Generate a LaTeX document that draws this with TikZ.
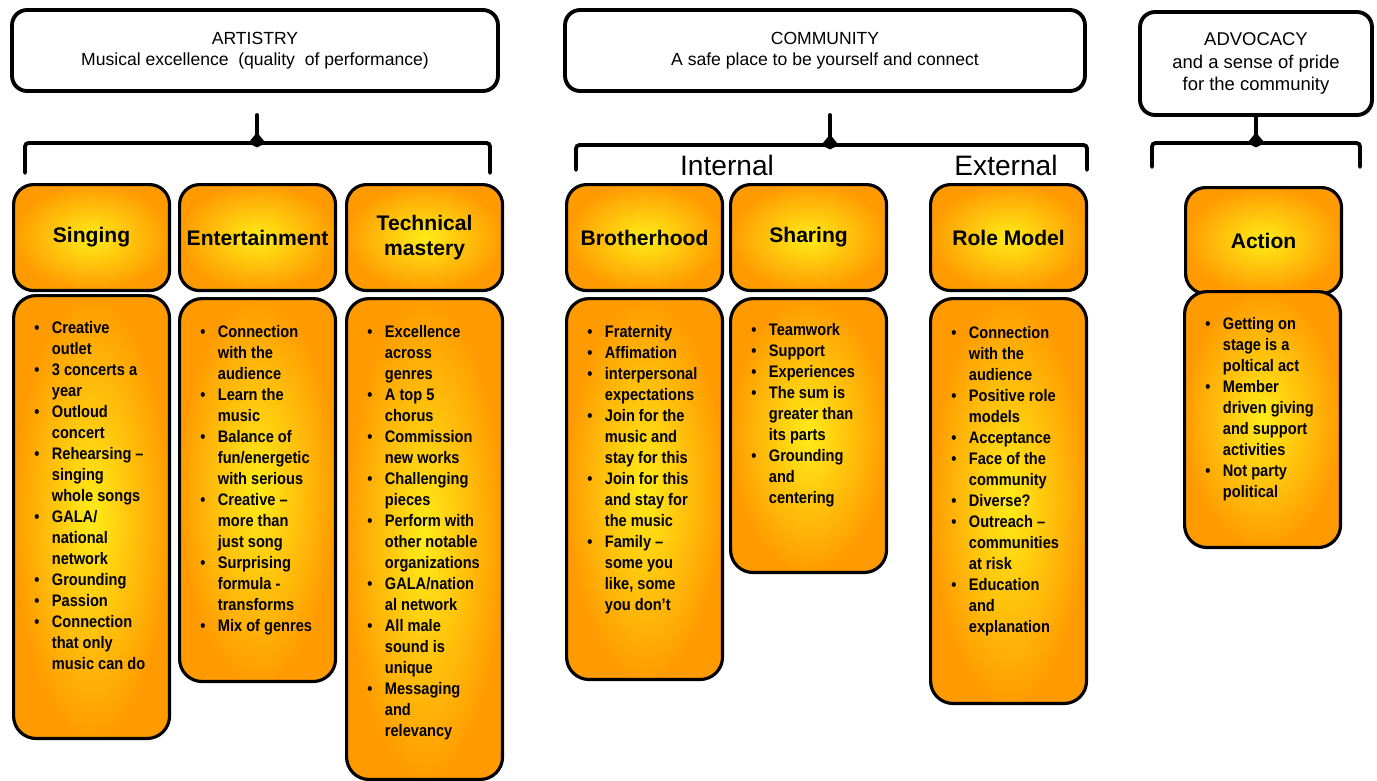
\documentclass[tikz,border=0pt]{standalone}
\usepackage{fontspec}
\setmainfont{Liberation Sans}
\newfontfamily\listfont[FakeStretch=0.875]{Liberation Sans}
\usepackage{array}
\definecolor{ornedge}{RGB}{255,155,0}
\definecolor{orncore}{RGB}{255,236,25}
\newcommand{\bul}{\makebox[10pt][l]{\textbullet}}
\newcommand{\ind}{\hspace*{10pt}}

\begin{document}
\begin{tikzpicture}[x=0.02cm,y=-0.02cm,
	topbox/.style={draw,line width=2.2pt,rounded corners=0.3cm,fill=white,inner sep=0pt,align=center,font=\fontsize{10}{12}\selectfont},
	headbox/.style={draw,line width=1.8pt,rounded corners=0.4cm,inner color=orncore,outer color=ornedge,minimum width=3.12cm,minimum height=2.12cm,anchor=north west,align=center,font=\fontsize{12}{14.4}\selectfont\bfseries},
	listbox/.style={draw,line width=1.8pt,rounded corners=0.45cm,inner color=orncore,outer color=ornedge,minimum width=3.12cm,anchor=north west},
	listtext/.style={anchor=base west,inner sep=0pt,font=\listfont\fontsize{9.5}{11.95}\selectfont\bfseries},
	brace/.style={line width=2.2pt,line cap=round,rounded corners=2pt},
	sidelabel/.style={font=\fontsize{16}{19}\selectfont}]
	\useasboundingbox (0,0) rectangle (1377,781);

	% top level boxes
	\node[topbox,minimum width=9.72cm,minimum height=1.62cm] (art) at (255,50.5) {ARTISTRY\\Musical excellence\ \ (quality\ \ of performance)};
	\node[topbox,minimum width=10.4cm,minimum height=1.62cm] (com) at (825,50.5) {COMMUNITY\\A safe place to be yourself and connect};
	\node[topbox,minimum width=4.64cm,minimum height=2.06cm,font=\fontsize{10.5}{12.6}\selectfont] (adv) at (1256,63.5) {ADVOCACY\\and a sense of pride\\for the community};

	% braces
	\coordinate (artT) at (257,115);
	\coordinate (artM) at (257,143);
	\coordinate (artL) at (25,173);
	\coordinate (artR) at (490,173);
	\draw[brace] (artL) |- (artM) -| (artR);
	\draw[brace] (artT) -- (artM);
	\fill ([xshift=-5pt]artM) -- ([yshift=-2.5pt]artM) -- ([xshift=5pt]artM) -- ([yshift=6pt]artM) -- cycle;

	\coordinate (comT) at (830,115);
	\coordinate (comM) at (830,145);
	\coordinate (comL) at (576,170);
	\coordinate (comR) at (1087,170);
	\draw[brace] (comL) |- (comM) -| (comR);
	\draw[brace] (comT) -- (comM);
	\fill ([xshift=-5pt]comM) -- ([yshift=-2.5pt]comM) -- ([xshift=5pt]comM) -- ([yshift=6pt]comM) -- cycle;

	\coordinate (advM) at (adv.south |- 0,143);
	\coordinate (advL) at (1152,167);
	\coordinate (advR) at (1360,167);
	\draw[brace] (advL) |- (advM) -| (advR);
	\draw[brace] (adv.south) -- (advM);
	\fill ([xshift=-5pt]advM) -- ([yshift=-2.5pt]advM) -- ([xshift=5pt]advM) -- ([yshift=6pt]advM) -- cycle;

	\node[sidelabel] (internal) at (727,165) {Internal};
	\node[sidelabel] (external) at (1006,165) {External};

	% headers
	\node[headbox] (singhead) at (12,183) {Singing};
	\node[headbox] (enthead) at (178,183) {Entertainment};
	\node[headbox] (techhead) at (345,183) {Technical\\mastery};
	\node[headbox] (brohead) at (565,183) {Brotherhood};
	\node[headbox] (sharhead) at (729,183) {Sharing};
	\node[headbox] (rolehead) at (929,183) {Role Model};
	\node[headbox] (acthead) at (1184,186) {Action};

	% lists
	\node[listbox,minimum height=8.86cm] (singbox) at (12,294) {};
	\node[listbox,minimum height=7.66cm] (entbox) at (178,297) {};
	\node[listbox,minimum height=9.62cm] (techbox) at (345,297) {};
	\node[listbox,minimum height=7.62cm] (brobox) at (565,297) {};
	\node[listbox,minimum height=5.48cm] (sharbox) at (729,297) {};
	\node[listbox,minimum height=8.1cm] (rolebox) at (929,297) {};
	\node[listbox,minimum height=5.12cm] (actbox) at (1183,290) {};

	\node[listtext] (singtxt) at ([xshift=0.44cm,yshift=-0.8cm]singbox.north west) {\begin{tabular}[t]{@{}l@{}}
		\bul Creative\\ \ind outlet\\
		\bul 3 concerts a\\ \ind year\\
		\bul Outloud\\ \ind concert\\
		\bul Rehearsing –\\ \ind singing\\ \ind whole songs\\
		\bul GALA/\\ \ind national\\ \ind network\\
		\bul Grounding\\
		\bul Passion\\
		\bul Connection\\ \ind that only\\ \ind music can do
	\end{tabular}};
	\node[listtext] (enttxt) at ([xshift=0.44cm,yshift=-0.82cm]entbox.north west) {\begin{tabular}[t]{@{}l@{}}
		\bul Connection\\ \ind with the\\ \ind audience\\
		\bul Learn the\\ \ind music\\
		\bul Balance of\\ \ind fun/energetic\\ \ind with serious\\
		\bul Creative –\\ \ind more than\\ \ind just song\\
		\bul Surprising\\ \ind formula -\\ \ind transforms\\
		\bul Mix of genres
	\end{tabular}};
	\node[listtext] (techtxt) at ([xshift=0.44cm,yshift=-0.82cm]techbox.north west) {\begin{tabular}[t]{@{}l@{}}
		\bul Excellence\\ \ind across\\ \ind genres\\
		\bul A top 5\\ \ind chorus\\
		\bul Commission\\ \ind new works\\
		\bul Challenging\\ \ind pieces\\
		\bul Perform with\\ \ind other notable\\ \ind organizations\\
		\bul GALA/nation\\ \ind al network\\
		\bul All male\\ \ind sound is\\ \ind unique\\
		\bul Messaging\\ \ind and\\ \ind relevancy
	\end{tabular}};
	\node[listtext] (brotxt) at ([xshift=0.44cm,yshift=-0.82cm]brobox.north west) {\begin{tabular}[t]{@{}l@{}}
		\bul Fraternity\\
		\bul Affimation\\
		\bul interpersonal\\ \ind expectations\\
		\bul Join for the\\ \ind music and\\ \ind stay for this\\
		\bul Join for this\\ \ind and stay for\\ \ind the music\\
		\bul Family –\\ \ind some you\\ \ind like, some\\ \ind you don’t
	\end{tabular}};
	\node[listtext] (shartxt) at ([xshift=0.44cm,yshift=-0.78cm]sharbox.north west) {\begin{tabular}[t]{@{}l@{}}
		\bul Teamwork\\
		\bul Support\\
		\bul Experiences\\
		\bul The sum is\\ \ind greater than\\ \ind its parts\\
		\bul Grounding\\ \ind and\\ \ind centering
	\end{tabular}};
	\node[listtext] (roletxt) at ([xshift=0.44cm,yshift=-0.84cm]rolebox.north west) {\begin{tabular}[t]{@{}l@{}}
		\bul Connection\\ \ind with the\\ \ind audience\\
		\bul Positive role\\ \ind models\\
		\bul Acceptance\\
		\bul Face of the\\ \ind community\\
		\bul Diverse?\\
		\bul Outreach –\\ \ind communities\\ \ind at risk\\
		\bul Education\\ \ind and\\ \ind explanation
	\end{tabular}};
	\node[listtext] (acttxt) at ([xshift=0.44cm,yshift=-0.8cm]actbox.north west) {\begin{tabular}[t]{@{}l@{}}
		\bul Getting on\\ \ind stage is a\\ \ind poltical act\\
		\bul Member\\ \ind driven giving\\ \ind and support\\ \ind activities\\
		\bul Not party\\ \ind political
	\end{tabular}};
\end{tikzpicture}
\end{document}
